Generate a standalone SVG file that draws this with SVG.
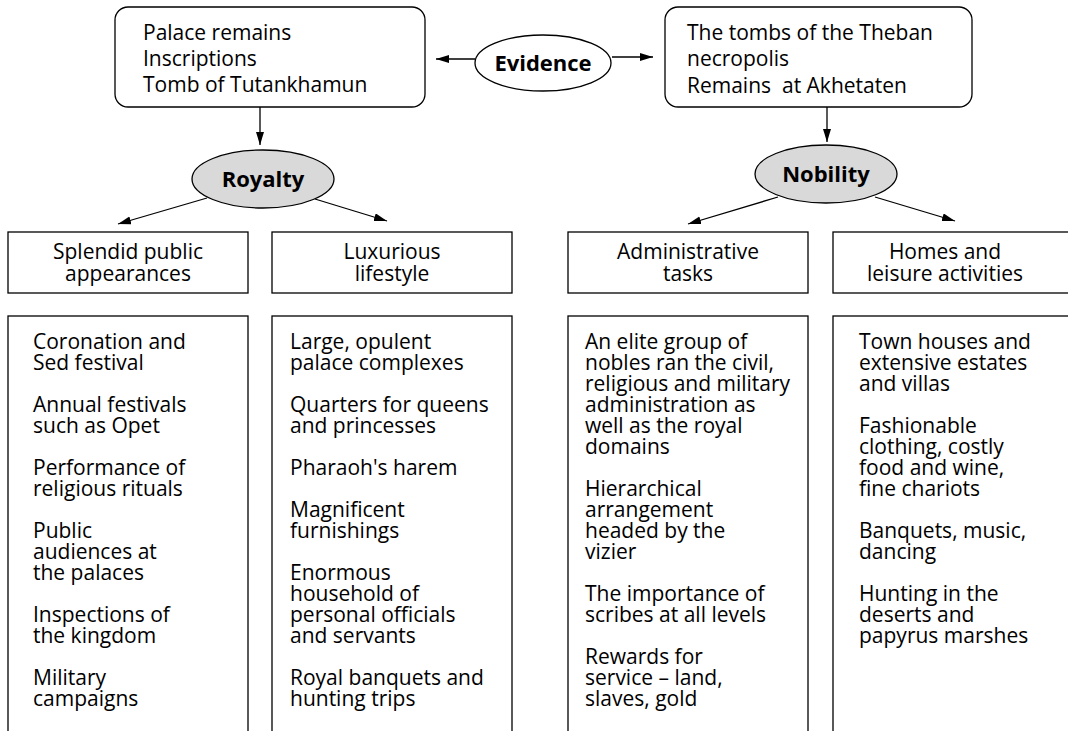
<svg xmlns="http://www.w3.org/2000/svg" width="1068" height="731" viewBox="0 0 1068 731">
<style>
text{font-family:"Open Sans","Noto Sans","Liberation Sans",sans-serif;fill:#000}
.top{font-size:21px}
.hd{font-size:21px;text-anchor:middle}
.it{font-size:21px}
.bold{font-size:22px;font-weight:bold;text-anchor:middle}
.box{fill:#fff;stroke:#000;stroke-width:1.3}
.ov{fill:#d9d9d9;stroke:#000;stroke-width:1.3}
.ln{stroke:#000;stroke-width:1.3;fill:none;marker-end:url(#ah)}
</style>
<defs>
<marker id="ah" markerUnits="userSpaceOnUse" markerWidth="14" markerHeight="10" refX="13" refY="4" orient="auto">
<path d="M0,0 L13,4 L0,8 Z" fill="#000"/>
</marker>
</defs>
<rect width="1068" height="731" fill="#fff"/>
<g id="connectors">
<line class="ln" x1="475" y1="59" x2="436" y2="59"/>
<line class="ln" x1="612" y1="57" x2="653" y2="57"/>
<line class="ln" x1="260" y1="107" x2="260" y2="145"/>
<line class="ln" x1="827" y1="107" x2="827" y2="142"/>
<line class="ln" x1="207" y1="198" x2="118" y2="224"/>
<line class="ln" x1="315" y1="199" x2="387" y2="221"/>
<line class="ln" x1="778" y1="197" x2="688" y2="224"/>
<line class="ln" x1="875" y1="197" x2="955" y2="221"/>
</g>
<g id="src-royal">
<rect class="box" x="115" y="7" width="310" height="100" rx="13"/>
<text class="top" x="143" y="40">Palace remains<tspan x="143" dy="26">Inscriptions</tspan><tspan x="143" dy="26">Tomb of Tutankhamun</tspan></text>
</g>
<g id="src-noble">
<rect class="box" x="665" y="7" width="307" height="100" rx="13"/>
<text class="top" x="687" y="40">The tombs of the Theban<tspan x="687" dy="26">necropolis</tspan><tspan x="687" dy="27" xml:space="preserve">Remains  at Akhetaten</tspan></text>
</g>
<g id="evidence">
<ellipse cx="543" cy="63" rx="68" ry="28" fill="#fff" stroke="#000" stroke-width="1.3"/>
<text class="bold" x="543" y="71">Evidence</text>
</g>
<g id="royalty">
<ellipse class="ov" cx="263" cy="179" rx="71" ry="29"/>
<text class="bold" x="263" y="187">Royalty</text>
</g>
<g id="nobility">
<ellipse class="ov" cx="826" cy="174" rx="71" ry="29"/>
<text class="bold" x="826" y="182">Nobility</text>
</g>
<g id="h-public">
<rect class="box" x="8" y="232" width="240" height="61"/>
<text class="hd" x="128" y="259">Splendid public<tspan x="128" dy="22">appearances</tspan></text>
</g>
<g id="h-lux">
<rect class="box" x="272" y="232" width="240" height="61"/>
<text class="hd" x="392" y="259">Luxurious<tspan x="392" dy="22">lifestyle</tspan></text>
</g>
<g id="h-admin">
<rect class="box" x="568" y="232" width="240" height="61"/>
<text class="hd" x="688" y="259">Administrative<tspan x="688" dy="22">tasks</tspan></text>
</g>
<g id="h-homes">
<rect class="box" x="833" y="232" width="260" height="61"/>
<text class="hd" x="945" y="259">Homes and<tspan x="945" dy="22">leisure activities</tspan></text>
</g>
<g id="l-public">
<rect class="box" x="8" y="316" width="240" height="440"/>
<text class="it" x="33" y="349">Coronation and<tspan x="33" dy="21">Sed festival</tspan></text>
<text class="it" x="33" y="412">Annual festivals<tspan x="33" dy="21">such as Opet</tspan></text>
<text class="it" x="33" y="475">Performance of<tspan x="33" dy="21">religious rituals</tspan></text>
<text class="it" x="33" y="538">Public<tspan x="33" dy="21">audiences at</tspan><tspan x="33" dy="21">the palaces</tspan></text>
<text class="it" x="33" y="622">Inspections of<tspan x="33" dy="21">the kingdom</tspan></text>
<text class="it" x="33" y="685">Military<tspan x="33" dy="21">campaigns</tspan></text>
</g>
<g id="l-lux">
<rect class="box" x="272" y="316" width="240" height="440"/>
<text class="it" x="290" y="349">Large, opulent<tspan x="290" dy="21">palace complexes</tspan></text>
<text class="it" x="290" y="412">Quarters for queens<tspan x="290" dy="21">and princesses</tspan></text>
<text class="it" x="290" y="475">Pharaoh's harem</text>
<text class="it" x="290" y="517">Magnificent<tspan x="290" dy="21">furnishings</tspan></text>
<text class="it" x="290" y="580">Enormous<tspan x="290" dy="21">household of</tspan><tspan x="290" dy="21">personal officials</tspan><tspan x="290" dy="21">and servants</tspan></text>
<text class="it" x="290" y="685">Royal banquets and<tspan x="290" dy="21">hunting trips</tspan></text>
</g>
<g id="l-admin">
<rect class="box" x="568" y="316" width="240" height="440"/>
<text class="it" x="585" y="349">An elite group of<tspan x="585" dy="21">nobles ran the civil,</tspan><tspan x="585" dy="21">religious and military</tspan><tspan x="585" dy="21">administration as</tspan><tspan x="585" dy="21">well as the royal</tspan><tspan x="585" dy="21">domains</tspan></text>
<text class="it" x="585" y="496">Hierarchical<tspan x="585" dy="21">arrangement</tspan><tspan x="585" dy="21">headed by the</tspan><tspan x="585" dy="21">vizier</tspan></text>
<text class="it" x="585" y="601">The importance of<tspan x="585" dy="21">scribes at all levels</tspan></text>
<text class="it" x="585" y="664">Rewards for<tspan x="585" dy="21">service – land,</tspan><tspan x="585" dy="21">slaves, gold</tspan></text>
</g>
<g id="l-homes">
<rect class="box" x="833" y="316" width="260" height="440"/>
<text class="it" x="859" y="349">Town houses and<tspan x="859" dy="21">extensive estates</tspan><tspan x="859" dy="21">and villas</tspan></text>
<text class="it" x="859" y="433">Fashionable<tspan x="859" dy="21">clothing, costly</tspan><tspan x="859" dy="21">food and wine,</tspan><tspan x="859" dy="21">fine chariots</tspan></text>
<text class="it" x="859" y="538">Banquets, music,<tspan x="859" dy="21">dancing</tspan></text>
<text class="it" x="859" y="601">Hunting in the<tspan x="859" dy="21">deserts and</tspan><tspan x="859" dy="21">papyrus marshes</tspan></text>
</g>
</svg>
